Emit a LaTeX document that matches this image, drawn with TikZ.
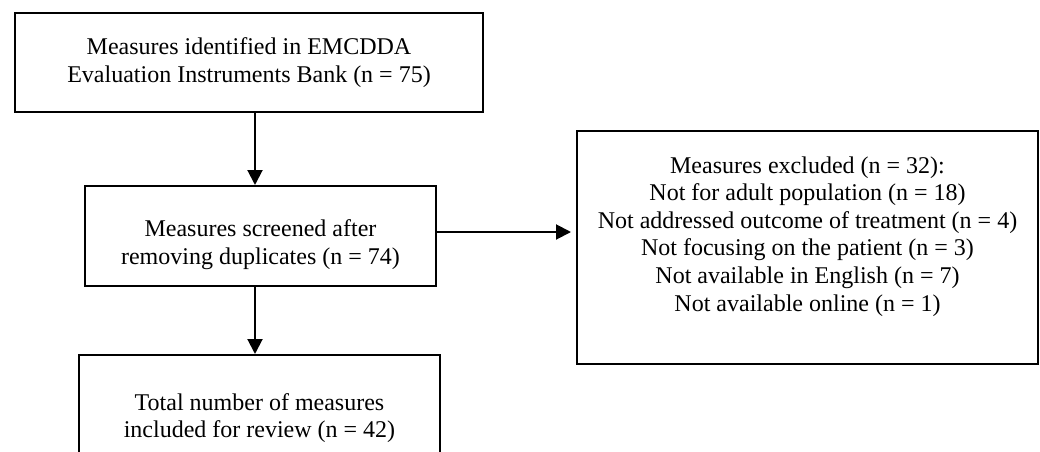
\documentclass[tikz,border=0pt]{standalone}
\usepackage{fontspec}
\setmainfont{Liberation Serif}
\usetikzlibrary{arrows.meta}
\usetikzlibrary{math}
\tikzset{
box/.style={draw, line width=1pt, inner sep=0pt},
txt/.style={align=center, inner sep=0pt, anchor=north, font=\fontsize{12}{13.8}\selectfont},
arr/.style={line width=1pt, -{Triangle[length=7.5pt,width=7.5pt]}}
}

\begin{document}
\begin{tikzpicture}[x=0.5pt,y=-0.5pt]
\tikzmath{
\W=1040;
\H=451;
\ax=255;%x of the down arrows
\ay=232;%y of the arrow to the right
}
\useasboundingbox (0,0) rectangle (\W,\H);
\clip (0,0) rectangle (\W,\H);

%boxes
\node[box, minimum width=234pt, minimum height=49.5pt] (b1) at (249,62.5) {};
\node[box, minimum width=175.5pt, minimum height=50pt] (b2) at (260.5,236) {};
\node[box, minimum width=180.5pt, minimum height=62.5pt] (b3) at (259.5,417.5) {};
\node[box, minimum width=230.5pt, minimum height=116.5pt] (b4) at (807.5,247.5) {};

%texts
\node[txt] (t1) at (249,37.5) {Measures identified in EMCDDA\\Evaluation Instruments Bank (n = 75)};
\node[txt] (t2) at (260.5,219.6) {Measures screened after\\removing duplicates (n = 74)};
\node[txt] (t3) at (259.5,393) {Total number of measures\\included for review (n = 42)};
\node[txt] (t4) at (807.5,156) {Measures excluded (n = 32):\\Not for adult population (n = 18)\\Not addressed outcome of treatment (n = 4)\\Not focusing on the patient (n = 3)\\Not available in English (n = 7)\\Not available online (n = 1)};

%arrows
\coordinate (a1) at (\ax,0);
\coordinate (a3) at (0,\ay);
\draw[arr] (b1.south -| a1) -- (b2.north -| a1);
\draw[arr] (b2.south -| a1) -- (b3.north -| a1);
\draw[arr, shorten >=2.5pt] (b2.east |- a3) -- (b4.west |- a3);
\end{tikzpicture}
\end{document}
